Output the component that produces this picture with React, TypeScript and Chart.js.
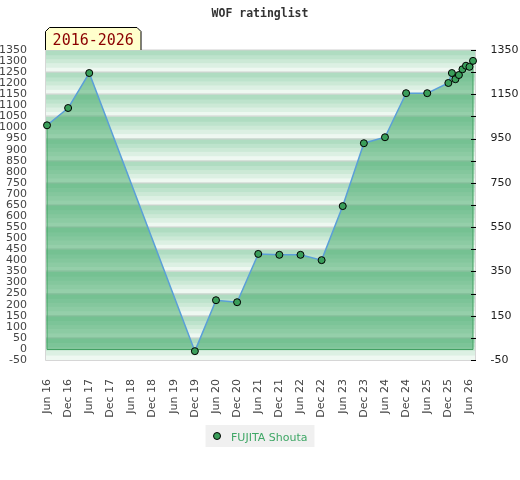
import { useEffect, useRef } from 'react';
import { Chart, registerables } from 'chart.js';

Chart.register(...registerables);

const TITLE = 'WOF ratinglist';
const PERIOD = '2016-2026';
const PLAYER = 'FUJITA Shouta';

const dates = [
  '2016-06', '2016-12', '2017-06', '2019-12', '2020-06', '2020-12', '2021-06', '2021-12',
  '2022-06', '2022-12', '2023-06', '2023-12', '2024-06', '2024-12', '2025-06', '2025-12',
  '2026-01', '2026-02', '2026-03', '2026-04', '2026-05', '2026-06', '2026-07',
];
const ratings = [
  1010, 1088, 1246, -10, 220, 211, 429, 425,
  425, 401, 645, 929, 956, 1155, 1155, 1201,
  1246, 1218, 1237, 1263, 1279, 1274, 1301,
];
const xTickLabels = [
  'Jun 16', 'Dec 16', 'Jun 17', 'Dec 17', 'Jun 18', 'Dec 18', 'Jun 19', 'Dec 19',
  'Jun 20', 'Dec 20', 'Jun 21', 'Dec 21', 'Jun 22', 'Dec 22', 'Jun 23', 'Dec 23',
  'Jun 24', 'Dec 24', 'Jun 25', 'Dec 25', 'Jun 26',
];
const X_TICK_MONTHS = 6;
const Y_MIN = -50;
const Y_MAX = 1350;
const LEFT_STEP = 50;
const RIGHT_STEP = 100;
const RIGHT_LABEL_STEP = 200;

const [baseY, baseM] = dates[0].split('-').map(Number);
const monthIndex = (d: string) => {
  const [y, m] = d.split('-').map(Number);
  return (y - baseY) * 12 + (m - baseM);
};
const points = dates.map((d, i) => ({ x: monthIndex(d), y: ratings[i] }));

const BAND_STOPS: [number, string][] = [
  [0, '#afdcc1'],
  [0.24, '#bde3cc'],
  [0.42, '#cce9d6'],
  [0.6, '#dcf0e3'],
  [0.8, '#eef8f1'],
];

const decor = {
  id: 'decor',
  beforeDatasetsDraw(chart: any) {
    const { ctx, chartArea: a, scales } = chart;
    const ys = scales.y;
    const L = a.left - 2;
    const R = a.right + 3;
    ctx.save();
    for (let v = Y_MAX; v > Y_MIN; v -= RIGHT_STEP) {
      const t = ys.getPixelForValue(v);
      const b = ys.getPixelForValue(Math.max(v - RIGHT_STEP, Y_MIN));
      const h = b - t;
      BAND_STOPS.forEach(([f, c], i) => {
        const f2 = i + 1 < BAND_STOPS.length ? BAND_STOPS[i + 1][0] : 1;
        ctx.fillStyle = c;
        ctx.fillRect(L, t + f * h, R - L, (f2 - f) * h + 0.6);
      });
      ctx.fillStyle = '#d0d0d0';
      ctx.fillRect(L, Math.round(t) - 0.5, R - L, 1);
    }
    ctx.strokeStyle = '#d6d6d6';
    ctx.lineWidth = 1;
    ctx.beginPath();
    ctx.moveTo(L + 0.5, ys.getPixelForValue(Y_MAX));
    ctx.lineTo(L + 0.5, a.bottom + 0.5);
    ctx.lineTo(R - 0.5, a.bottom + 0.5);
    ctx.lineTo(R - 0.5, ys.getPixelForValue(Y_MAX));
    ctx.stroke();
    ctx.restore();
  },
  beforeDatasetDraw(chart: any) {
    const { ctx, scales } = chart;
    const pts = chart.getDatasetMeta(0).data;
    if (!pts.length) return;
    const y0 = Math.round(scales.y.getPixelForValue(0)) + 0.5;
    const first = pts[0];
    const last = pts[pts.length - 1];
    ctx.save();
    ctx.strokeStyle = '#43a163';
    ctx.lineWidth = 1;
    ctx.beginPath();
    ctx.moveTo(first.x, first.y);
    ctx.lineTo(first.x, y0);
    ctx.lineTo(last.x, y0);
    ctx.lineTo(last.x, last.y);
    ctx.stroke();
    ctx.restore();
  },
  afterDraw(chart: any) {
    const { ctx, chartArea: a, scales, width } = chart;
    ctx.save();
    // right axis tick marks
    const y2 = scales.y2;
    ctx.strokeStyle = '#000';
    ctx.lineWidth = 1;
    y2.ticks.forEach((t: any) => {
      const yy = Math.round(y2.getPixelForValue(t.value)) + 0.5;
      ctx.beginPath();
      ctx.moveTo(a.right - 2, yy);
      ctx.lineTo(a.right + 3, yy);
      ctx.stroke();
    });
    // title
    ctx.fillStyle = '#333';
    ctx.font = 'bold 11.5px "DejaVu Sans Mono"';
    ctx.textAlign = 'center';
    ctx.textBaseline = 'alphabetic';
    ctx.fillText(TITLE, width / 2, 17);
    // period badge
    const x0 = a.left - 2 + 0.5;
    const x1 = x0 + 95.5;
    const yTop = 27.5;
    const yBot = a.top;
    const cut = 4;
    ctx.beginPath();
    ctx.moveTo(x0, yBot);
    ctx.lineTo(x0, yTop + cut);
    ctx.lineTo(x0 + cut, yTop);
    ctx.lineTo(x1 - cut, yTop);
    ctx.lineTo(x1, yTop + cut);
    ctx.lineTo(x1, yBot);
    ctx.closePath();
    ctx.fillStyle = '#ffffcc';
    ctx.fill();
    ctx.beginPath();
    ctx.moveTo(x0, yBot);
    ctx.lineTo(x0, yTop + cut);
    ctx.lineTo(x0 + cut, yTop);
    ctx.lineTo(x1 - cut, yTop);
    ctx.lineTo(x1, yTop + cut);
    ctx.lineTo(x1, yBot);
    ctx.strokeStyle = '#000';
    ctx.stroke();
    ctx.fillStyle = '#8b0000';
    ctx.font = '15px "DejaVu Sans Mono"';
    ctx.textAlign = 'center';
    ctx.fillText(PERIOD, (x0 + x1) / 2, 45);
    // legend
    ctx.font = '11px "DejaVu Sans"';
    const tw = ctx.measureText(PLAYER).width;
    const bw = 25.5 + tw + 7;
    const bx = width / 2 - bw / 2;
    const by = 425;
    ctx.fillStyle = '#f0f0f0';
    ctx.fillRect(bx, by, bw, 22);
    ctx.beginPath();
    ctx.arc(bx + 11.5, by + 11, 3.5, 0, Math.PI * 2);
    ctx.fillStyle = '#3a9e5a';
    ctx.fill();
    ctx.strokeStyle = '#000';
    ctx.stroke();
    ctx.fillStyle = '#3fa766';
    ctx.textAlign = 'left';
    ctx.fillText(PLAYER, bx + 25.5, by + 15.5);
    ctx.restore();
  },
};

export default function App() {
  const ref = useRef<HTMLCanvasElement | null>(null);

  useEffect(() => {
    document.body.style.margin = '0';
    if (!ref.current) return;
    const chart = new Chart(ref.current, {
      type: 'line',
      data: {
        datasets: [
          {
            label: PLAYER,
            data: points,
            borderColor: '#5a9fd8',
            borderWidth: 1.5,
            backgroundColor: 'rgba(60,165,100,0.5)',
            fill: { target: { value: 0 } },
            tension: 0,
            pointRadius: 3.5,
            pointHoverRadius: 3.5,
            pointBackgroundColor: '#3a9e5a',
            pointBorderColor: '#000',
            pointBorderWidth: 1,
            clip: false,
          } as any,
        ],
      },
      options: {
        animation: false,
        responsive: false,
        events: [],
        layout: { padding: { top: 50, left: 0, right: 0, bottom: 0 } },
        plugins: {
          legend: { display: false },
          title: { display: false },
          tooltip: { enabled: false },
        },
        scales: {
          x: {
            type: 'linear',
            min: points[0].x,
            max: points[points.length - 1].x,
            grid: { display: false },
            border: { display: false },
            afterBuildTicks: (s: any) => {
              s.ticks = xTickLabels.map((_, i) => ({ value: i * X_TICK_MONTHS }));
            },
            afterFit: (s: any) => {
              s.height = 120;
            },
            ticks: {
              autoSkip: false,
              minRotation: 90,
              maxRotation: 90,
              padding: 11,
              color: '#444',
              font: { family: 'DejaVu Sans', size: 11 },
              callback: (v: any) => xTickLabels[Math.round(Number(v) / X_TICK_MONTHS)] ?? '',
            },
          },
          y: {
            type: 'linear',
            position: 'left',
            min: Y_MIN,
            max: Y_MAX,
            grid: { display: false },
            border: { display: false },
            afterFit: (s: any) => {
              s.width = 47;
            },
            ticks: {
              stepSize: LEFT_STEP,
              autoSkip: false,
              padding: 12,
              color: '#444',
              font: { family: 'DejaVu Sans', size: 11 },
              callback: (v: any) => String(v),
            },
          },
          y2: {
            type: 'linear',
            position: 'right',
            min: Y_MIN,
            max: Y_MAX,
            grid: { display: false },
            border: { display: false },
            afterFit: (s: any) => {
              s.width = 47;
            },
            ticks: {
              stepSize: RIGHT_STEP,
              autoSkip: false,
              padding: 9.5,
              color: '#222',
              font: { family: 'DejaVu Sans', size: 11 },
              callback: (v: any) => ((Y_MAX - Number(v)) % RIGHT_LABEL_STEP === 0 ? String(v) : ''),
            },
          },
        },
      },
      plugins: [decor],
    });
    return () => chart.destroy();
  }, []);

  return (
    <div style={{ width: 520, height: 480 }}>
      <canvas ref={ref} width={520} height={480} />
    </div>
  );
}
